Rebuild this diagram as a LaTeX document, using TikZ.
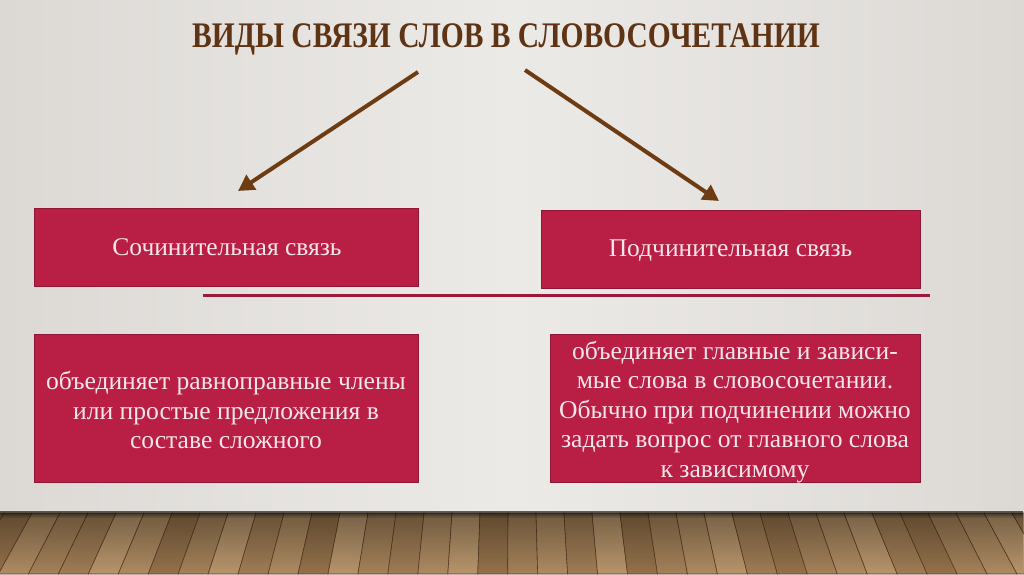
\documentclass[tikz,border=0pt]{standalone}
\usepackage{fontspec}
\setmainfont{Liberation Serif}
\newfontfamily\titlefont[FakeStretch=0.82]{Liberation Serif}
\usetikzlibrary{arrows.meta,fadings}
\definecolor{wallC}{HTML}{ECEAE7}
\definecolor{wallE}{HTML}{DCD9D5}
\definecolor{crim}{HTML}{B91E45}
\definecolor{crimdark}{HTML}{8F1636}
\definecolor{boxtext}{HTML}{F6E6EA}
\definecolor{brown}{HTML}{5E3415}
\definecolor{arrowbrown}{HTML}{6E3C12}
\definecolor{woodLine}{HTML}{5A3E26}
\definecolor{w1}{HTML}{A07D55}
\definecolor{w2}{HTML}{AE8B62}
\definecolor{w3}{HTML}{94724B}
\definecolor{w4}{HTML}{B8966C}
\definecolor{w5}{HTML}{A4825A}
\tikzset{
  box/.style={fill=crim, draw=crimdark, line width=0.8pt, inner sep=0pt},
  headtext/.style={text=boxtext, font=\fontsize{25.5}{30}\selectfont},
  bodytext/.style={text=boxtext, font=\fontsize{25.6}{29.5}\selectfont, align=center},
  brownarrow/.style={draw=arrowbrown, line width=4pt, -{Triangle[length=16pt,width=17pt]}},
  divider/.style={draw=crim!85!black, line width=3pt},
  plank/.style={draw=woodLine, line width=0.6pt}
}
\begin{document}
\begin{tikzpicture}[x=1pt,y=-1pt]
\useasboundingbox (0,0) rectangle (1024,574);
% wall
\shade[left color=wallE, right color=wallE, middle color=wallC] (0,0) rectangle (1024,513);
% floor planks
\foreach \x/\c in {-52/w2,-24/w1,4/w3,32/w2,60/w5,88/w1,116/w4,144/w2,172/w3,200/w5,228/w4,256/w1,284/w2,312/w3,340/w4,368/w5,396/w1,424/w2,452/w4,480/w3,508/w5,536/w2,564/w1,592/w4,620/w3,648/w5,676/w2,704/w4,732/w1,760/w3,788/w5,816/w2,844/w4,872/w1,900/w3,928/w5,956/w2,984/w4,1012/w1,1040/w3}{
  \filldraw[plank, fill=\c] (\x,513) -- (\x+28,513) -- ({512+(\x+28-512)*1.07},574) -- ({512+(\x-512)*1.07},574) -- cycle;
}
\fill[black, opacity=0.35, path fading=south] (0,513) rectangle (1024,574);
\fill[black, opacity=0.6, path fading=south] (0,511) rectangle (1024,518);
% title
\node[text=brown] (title) at (506,39) {\titlefont\bfseries\fontsize{36}{40}\selectfont ВИДЫ СВЯЗИ СЛОВ В СЛОВОСОЧЕТАНИИ};
% boxes
\node[box, minimum width=384pt, minimum height=78pt] (coord) at (226,247) {};
\node[headtext] (coordtext) at (227,247) {Сочинительная связь};
\node[box, minimum width=379pt, minimum height=78pt] (subord) at (730.5,249) {};
\node[headtext] (subordtext) at (730.5,251) {Подчинительная связь};
\node[box, minimum width=384pt, minimum height=148pt] (coorddesc) at (226,408) {};
\node[bodytext] (coorddesctext) at (226,410)
  {объединяет равноправные члены\\или простые предложения в\\составе сложного};
\node[box, minimum width=370pt, minimum height=148pt] (subdesc) at (735,408) {};
\node[bodytext] (subdesctext) at (735,412)
  {объединяет главные и зависи-\\мые слова в словосочетании.\\Обычно при подчинении можно\\задать вопрос от главного слова\\к зависимому};
% divider
\coordinate (divL) at (203,295);
\coordinate (divR) at (930,295);
\draw[divider] (divL) -- (divR);
% arrows
\coordinate (aLs) at (418,72);
\coordinate (aLe) at (238,191);
\coordinate (aRs) at (525,70);
\coordinate (aRe) at (719,201);
\draw[brownarrow] (aLs) -- (aLe);
\draw[brownarrow] (aRs) -- (aRe);
\end{tikzpicture}
\end{document}
